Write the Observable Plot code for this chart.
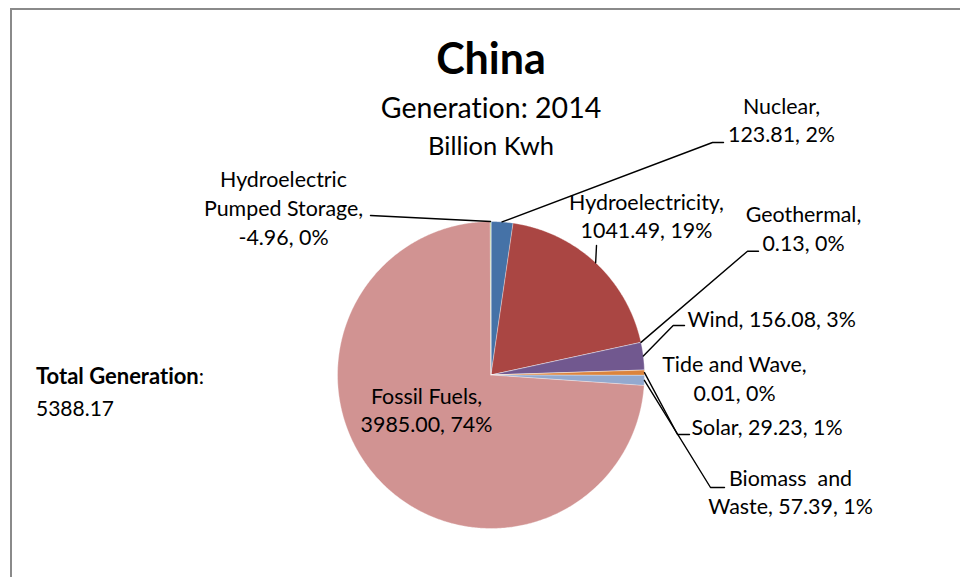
<!DOCTYPE html>
<html>
<head>
<meta charset="utf-8">
<script src="https://cdn.jsdelivr.net/npm/d3@7"></script>
<script src="https://cdn.jsdelivr.net/npm/@observablehq/plot@0.6"></script>
<style>
  html, body { margin: 0; padding: 0; background: #fff; }
  #wrap { position: relative; width: 960px; height: 577px; overflow: hidden; font-family: Lato, "Open Sans", sans-serif; font-variant-ligatures: none; }
  #frame { position: absolute; left: 10px; top: 8px; right: -4px; bottom: -4px; border-left: 2px solid #8a8a8a; border-top: 2px solid #8a8a8a; pointer-events: none; }
  #total { position: absolute; left: 36px; top: 360px; font-size: 21px; line-height: 32px; color: #000; white-space: nowrap; }
  #total b { font-size: 22px; }
  svg text { white-space: pre; font-variant-ligatures: none; }
</style>
</head>
<body>
<div id="wrap">
  <div id="chart"></div>
  <div id="total"><b id="totalLabel"></b>:<br><span id="totalValue"></span></div>
  <div id="frame"></div>
</div>
<script>
// ---- data ----
const sources = ["Nuclear", "Hydroelectricity", "Geothermal", "Wind", "Tide and Wave", "Solar", "Biomass  and\nWaste", "Fossil Fuels", "Hydroelectric\nPumped Storage"];
const generation = [123.81, 1041.49, 0.13, 156.08, 0.01, 29.23, 57.39, 3985.00, -4.96];
const sliceColors = ["#4572A7", "#AA4643", "#89A54E", "#71588F", "#4198AF", "#DB843D", "#93A9CF", "#D19392", "#B9CD96"];
const titleText = "China";
const subtitleText = "Generation: 2014";
const unitText = "Billion Kwh";
const totalLabel = "Total Generation";
const totalGeneration = 5388.17;

// ---- layout (pixel units of the x/y scales) ----
const W = 960, H = 577;
const pie = {cx: 490.5, cy: 374.5, r: 153.5};
const labelFont = 21.4, labelLH = 1.34;
// per slice: label anchor x, first-line baseline, text anchor, wrap after name, leader bends
const labelLayout = [
  {x: 781, base: 113.3, anchor: "middle", wrap: true, leader: [[712, 142], [723, 142]]},
  {x: 646, base: 209.3, anchor: "middle", wrap: true, leader: [[596, 245]]},
  {x: 803, base: 221.7, anchor: "middle", wrap: true, leader: [[747, 250.7], [758, 250.7]]},
  {x: 687, base: 326.7, anchor: "start", wrap: false, leader: [[672.7, 325], [684, 325]]},
  {x: 734, base: 371.7, anchor: "middle", wrap: true, leader: null},
  {x: 691, base: 434, anchor: "start", wrap: false, leader: [[677, 434], [689, 434]]},
  {x: 790, base: 485, anchor: "middle", wrap: false, leader: [[710, 487], [724, 487]]},
  {x: 426, base: 403, anchor: "middle", wrap: true, leader: null},
  {x: 283, base: 186.7, anchor: "middle", wrap: true, leader: [[370, 215]]}
];

// ---- derived ----
const absSum = d3.sum(generation, v => Math.abs(v));
document.getElementById("totalLabel").textContent = totalLabel;
document.getElementById("totalValue").textContent = totalGeneration.toFixed(2);

let acc = 0;
const slices = sources.map((s, i) => {
  const a0 = acc / absSum * 2 * Math.PI;
  acc += Math.abs(generation[i]);
  const a1 = acc / absSum * 2 * Math.PI;
  return {source: s, value: generation[i], a0, a1, pct: Math.round(Math.abs(generation[i]) / absSum * 100)};
});

const pt = (a, r) => [pie.cx + r * Math.sin(a), pie.cy - r * Math.cos(a)];

const slicePts = [];
for (const s of slices) {
  const n = Math.max(2, Math.ceil((s.a1 - s.a0) / (Math.PI / 360)));
  slicePts.push({source: s.source, x: pie.cx, y: pie.cy});
  for (let k = 0; k <= n; k++) {
    const [x, y] = pt(s.a0 + (s.a1 - s.a0) * k / n, pie.r);
    slicePts.push({source: s.source, x, y});
  }
}

const labels = slices.map((s, i) => {
  const L = labelLayout[i];
  const text = s.source + (L.wrap ? ",\n" : ", ") + s.value.toFixed(2) + ", " + s.pct + "%";
  return {text, x: L.x, y: L.base - 0.71 * labelLH * labelFont, anchor: L.anchor};
});

const leaders = [];
slices.forEach((s, i) => {
  const L = labelLayout[i];
  if (!L.leader) return;
  const am = (s.a0 + s.a1) / 2;
  const [x0, y0] = pt(am, pie.r);
  leaders.push({id: i, x: x0, y: y0});
  for (const [x, y] of L.leader) leaders.push({id: i, x, y});
});

const titles = [
  {t: titleText, x: pie.cx, base: 73.3, fs: 43, fw: "bold"},
  {t: subtitleText, x: pie.cx, base: 117.3, fs: 28.5, fw: "normal"},
  {t: unitText, x: pie.cx, base: 154.3, fs: 25.5, fw: "normal"}
];

const textMarks = [];
for (const a of ["start", "middle"]) {
  textMarks.push(Plot.text(labels.filter(d => d.anchor === a), {
    x: "x", y: "y", text: "text", textAnchor: a, lineAnchor: "top",
    lineHeight: labelLH, fontSize: labelFont, fill: "#000"
  }));
}
for (const t of titles) {
  textMarks.push(Plot.text([t], {
    x: "x", y: d => d.base - 0.71 * d.fs, text: "t", textAnchor: "middle", lineAnchor: "top",
    fontSize: t.fs, fontWeight: t.fw, fill: "#000"
  }));
}

const chart = Plot.plot({
  width: W, height: H,
  margin: 0,
  style: {fontFamily: "Lato, 'Open Sans', sans-serif", background: "transparent", overflow: "visible"},
  x: {domain: [0, W], range: [0, W], axis: null},
  y: {domain: [0, H], range: [0, H], axis: null},
  color: {domain: sources, range: sliceColors},
  marks: [
    Plot.line(slicePts, {x: "x", y: "y", z: "source", fill: "source", stroke: "#ffffff", strokeWidth: 0.6, strokeOpacity: 0.6, curve: "linear-closed"}),
    Plot.line(leaders, {x: "x", y: "y", z: "id", stroke: "#000", strokeWidth: 1.4}),
    ...textMarks
  ]
});
document.getElementById("chart").appendChild(chart);
</script>
</body>
</html>
